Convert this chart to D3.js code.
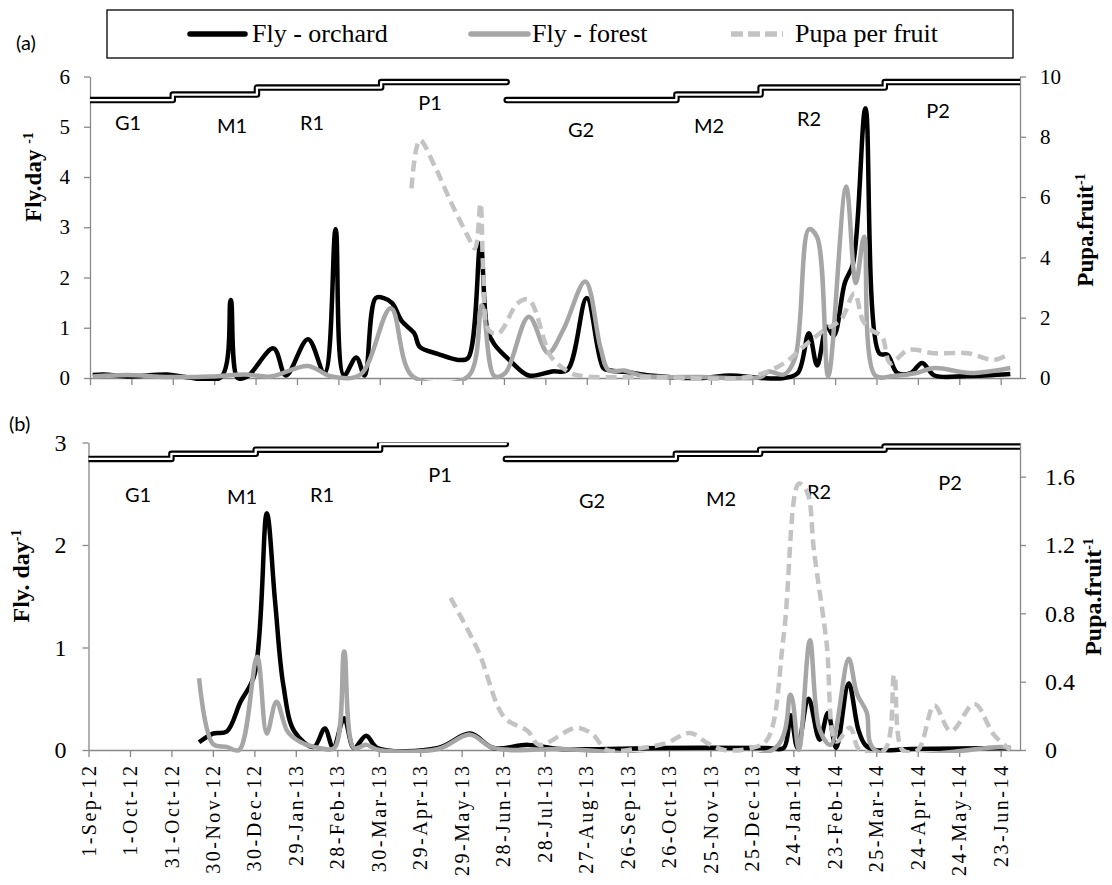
<!DOCTYPE html>
<html>
<head>
<meta charset="utf-8">
<script src="https://cdn.jsdelivr.net/npm/d3@7"></script>
<style>
  body { margin: 0; background: #fff; }
  text { fill: #000; }
</style>
</head>
<body>
<script>
// ---- data ----
var tickLabels = ["1-Sep-12","1-Oct-12","31-Oct-12","30-Nov-12","30-Dec-12","29-Jan-13","28-Feb-13",
  "30-Mar-13","29-Apr-13","29-May-13","28-Jun-13","28-Jul-13","27-Aug-13","26-Sep-13","26-Oct-13",
  "25-Nov-13","25-Dec-13","24-Jan-14","23-Feb-14","25-Mar-14","24-Apr-14","24-May-14","23-Jun-14"]

var phaseNames = ["G1","M1","R1","P1","G2","M2","R2","P2"]
var phaseStart = ["2012-08-25","2012-10-31","2012-12-31","2013-03-31","2013-06-30","2013-10-31","2013-12-31","2014-03-31"]
var phaseEnd   = ["2012-10-31","2012-12-31","2013-03-31","2013-06-30","2013-10-31","2013-12-31","2014-03-31","2014-07-15"]
var phaseLevelA = [5.53, 5.64, 5.78, 5.89, 5.53, 5.64, 5.78, 5.89]
var phaseLevelB = [2.84, 2.89, 2.93, 2.985, 2.84, 2.89, 2.93, 2.96]

// (a) flies per day, left axis
var orchardA = [["2012-09-03",0.06],["2012-09-11",0.07],["2012-09-28",0.03],["2012-10-27",0.07],["2012-11-09",0.02],
  ["2012-12-05",0.02],["2012-12-12",1.55],["2012-12-17",0.0],["2012-12-24",0.03],["2013-01-12",0.59],["2013-01-21",0.05],
  ["2013-02-06",0.77],["2013-02-18",0.1],["2013-02-26",2.96],["2013-03-04",0.05],["2013-03-13",0.41],["2013-03-19",0.05],
  ["2013-03-27",1.59],["2013-04-02",1.59],["2013-04-08",1.49],["2013-04-15",1.13],["2013-04-24",0.89],["2013-04-28",0.62],
  ["2013-05-11",0.48],["2013-05-26",0.36],["2013-06-02",0.4],["2013-06-11",2.68],["2013-06-16",0.96],["2013-06-21",0.67],
  ["2013-07-03",0.33],["2013-07-16",0.05],["2013-08-02",0.13],["2013-08-13",0.16],["2013-08-27",1.59],["2013-09-08",0.2],
  ["2013-09-13",0.15],["2013-09-25",0.12],["2013-10-12",0.05],["2013-11-17",0.0],["2013-12-09",0.05],["2013-12-31",0.0],
  ["2014-01-17",0.0],["2014-01-27",0.1],["2014-02-04",0.89],["2014-02-10",0.25],["2014-02-17",1.02],["2014-02-22",0.84],
  ["2014-03-02",1.89],["2014-03-08",2.28],["2014-03-17",5.37],["2014-03-27",0.49],["2014-04-02",0.46],["2014-04-09",0.1],
  ["2014-04-19",0.1],["2014-04-27",0.3],["2014-05-06",0.05],["2014-05-30",0.04],["2014-06-30",0.08]]
var forestA = [["2012-09-03",0.03],["2012-09-28",0.06],["2012-10-27",0.02],["2012-11-28",0.03],["2012-12-22",0.07],
  ["2013-01-10",0.03],["2013-02-06",0.24],["2013-02-23",0.03],["2013-03-16",0.07],["2013-04-07",1.39],["2013-04-23",0.03],
  ["2013-06-02",0.03],["2013-06-12",1.45],["2013-06-21",0.04],["2013-06-29",0.1],["2013-07-16",1.22],["2013-07-30",0.5],
  ["2013-08-10",0.96],["2013-08-26",1.92],["2013-09-06",0.6],["2013-09-12",0.15],["2013-09-23",0.15],["2013-10-07",0.04],
  ["2013-11-17",0.02],["2013-12-31",0.02],["2014-01-06",0.13],["2014-01-17",0.07],["2014-01-25",0.4],["2014-02-04",2.96],
  ["2014-02-10",2.8],["2014-02-18",0.03],["2014-03-03",3.81],["2014-03-10",1.89],["2014-03-16",2.81],["2014-03-24",0.05],
  ["2014-04-06",0.04],["2014-04-23",0.1],["2014-05-06",0.2],["2014-06-01",0.1],["2014-06-30",0.2]]
// (a) pupae per fruit, right axis
var pupaA = [["2013-04-22",6.29],["2013-04-28",7.89],["2013-05-09",7.01],["2013-05-21",5.79],["2013-06-02",4.69],
  ["2013-06-07",4.3],["2013-06-11",5.79],["2013-06-13",3.58],["2013-06-17",1.59],["2013-06-24",1.48],["2013-07-08",2.48],
  ["2013-07-16",2.6],["2013-07-28",1.15],["2013-08-01",0.71],["2013-08-15",0.17],["2013-08-25",0.06],["2013-10-15",0.03],
  ["2013-12-24",0.05],["2014-01-17",0.49],["2014-01-31",1.04],["2014-02-15",1.59],["2014-02-27",1.92],["2014-03-09",2.81],
  ["2014-03-15",1.92],["2014-03-21",1.59],["2014-03-29",1.37],["2014-04-04",0.49],["2014-04-17",0.93],["2014-05-06",0.82],
  ["2014-05-30",0.82],["2014-06-18",0.6],["2014-06-28",0.77]]

// (b)
var orchardB = [["2012-11-20",0.075],["2012-11-30",0.16],["2012-12-10",0.18],["2012-12-20",0.47],["2012-12-30",0.73],
  ["2013-01-08",2.31],["2013-01-14",1.45],["2013-01-20",0.63],["2013-01-28",0.18],["2013-02-11",0.03],["2013-02-19",0.21],
  ["2013-02-25",0.02],["2013-03-05",0.31],["2013-03-12",0.02],["2013-03-21",0.14],["2013-03-29",0.02],["2013-05-12",0.02],
  ["2013-06-04",0.16],["2013-06-21",0.02],["2013-07-16",0.05],["2013-08-08",0.01],["2013-10-20",0.02],["2014-01-05",0.02],
  ["2014-01-17",0.02],["2014-01-22",0.34],["2014-01-27",0.02],["2014-02-04",0.5],["2014-02-12",0.1],["2014-02-18",0.36],
  ["2014-02-24",0.02],["2014-03-05",0.65],["2014-03-12",0.2],["2014-03-17",0.05],["2014-03-24",0.0],["2014-04-20",0.01],
  ["2014-06-30",0.02]]
var forestB = [["2012-11-20",0.7],["2012-11-30",0.06],["2012-12-10",0.03],["2012-12-19",0.0],["2013-01-01",0.91],
  ["2013-01-08",0.16],["2013-01-15",0.47],["2013-01-23",0.18],["2013-02-01",0.08],["2013-02-15",0.02],["2013-02-26",0.02],
  ["2013-03-05",0.96],["2013-03-12",0.02],["2013-03-21",0.05],["2013-03-30",0.0],["2013-05-12",0.01],["2013-06-04",0.15],
  ["2013-06-21",0.02],["2013-08-08",0.01],["2014-01-11",0.02],["2014-01-22",0.54],["2014-01-28",0.0],["2014-02-05",1.07],
  ["2014-02-12",0.2],["2014-02-20",0.05],["2014-03-05",0.89],["2014-03-11",0.55],["2014-03-18",0.37],["2014-03-24",0.0],
  ["2014-06-23",0.03],["2014-06-30",0.02]]
var pupaB = [["2013-05-21",0.89],["2013-06-10",0.58],["2013-06-29",0.19],["2013-07-16",0.11],["2013-07-24",0.03],
  ["2013-08-20",0.13],["2013-09-01",0.09],["2013-09-11",0.0],["2013-10-05",0.01],["2013-10-24",0.04],["2013-11-10",0.1],
  ["2013-11-23",0.04],["2013-12-05",0.0],["2013-12-24",0.01],["2014-01-05",0.06],["2014-01-17",0.67],["2014-01-28",1.56],
  ["2014-02-03",1.51],["2014-02-08",1.16],["2014-02-17",0.63],["2014-02-24",0.05],["2014-03-06",0.13],["2014-03-13",0.0],
  ["2014-03-31",0.0],["2014-04-07",0.44],["2014-04-13",0.0],["2014-04-24",0.0],["2014-05-06",0.26],["2014-05-18",0.11],
  ["2014-06-04",0.27],["2014-06-18",0.09],["2014-06-30",0.0]]

// ---- layout ----
var W = 1112, H = 885
var serif = "'Liberation Serif','Times New Roman','DejaVu Serif',serif"
var sans = "Lato,'Open Sans',sans-serif"
var axisGrey = "#888"
var cBlack = "#000", cForest = "#a6a6a6", cPupa = "#c3c3c3"

var parse = d3.timeParse("%Y-%m-%d")
var parseTick = d3.timeParse("%d-%b-%y")
var tickDates = tickLabels.map(parseTick)
var xDomain = [parse("2012-09-01"), parse("2014-07-07")]

var panels = [
  { id: "a", x0: 90, x1: 1020, yTop: 76.5, yBot: 378, lMax: 6, rMax: 10,
    lTicks: [0,1,2,3,4,5,6], rTicks: [0,2,4,6,8,10], fs: 21, lPad: 14, rPad: 14,
    orchard: orchardA, forest: forestA, pupa: pupaA, levels: phaseLevelA, xLabels: false,
    tag: [16, 50], lTitle: ["Fly.day ", "-1", 41, 177], rTitle: ["Pupa.fruit", "-1", 1093, 230],
    phaseLab: [[128,130],[232,133],[312,130],[430,110],[581,137],[709,133],[809,126],[938,118]] },
  { id: "b", x0: 88.5, x1: 1020, yTop: 442.5, yBot: 750, lMax: 3, rMax: 1.8,
    lTicks: [0,1,2,3], rTicks: [0,0.4,0.8,1.2,1.6], fs: 24, lPad: 16, rPad: 19,
    orchard: orchardB, forest: forestB, pupa: pupaB, levels: phaseLevelB, xLabels: true,
    tag: [9, 431], lTitle: ["Fly. day", "-1", 29, 576], rTitle: ["Pupa.fruit", "-1", 1101, 597],
    phaseLab: [[138,502],[242,504],[322,502],[440,482],[592,508],[721,506],[819,499],[950,490]] }
]

var svg = d3.select("body").append("svg")
  .attr("width", W).attr("height", H)
  .style("font-family", serif)

svg.append("rect").attr("width", W).attr("height", H).attr("fill", "#fff")

panels.forEach(function (p) {
  var x = d3.scaleTime().domain(xDomain).range([p.x0, p.x1])
  var yL = d3.scaleLinear().domain([0, p.lMax]).range([p.yBot, p.yTop])
  var yR = d3.scaleLinear().domain([0, p.rMax]).range([p.yBot, p.yTop])

  var g = svg.append("g").attr("class", "panel-" + p.id)

  // clip paths
  g.append("clipPath").attr("id", "clip-" + p.id)
    .append("rect").attr("x", p.x0).attr("y", p.yTop - 20)
    .attr("width", p.x1 - p.x0).attr("height", p.yBot - p.yTop + 23)
  g.append("clipPath").attr("id", "clipbar-" + p.id)
    .append("rect").attr("x", p.x0).attr("y", p.yTop)
    .attr("width", p.x1 - p.x0).attr("height", p.yBot - p.yTop)

  // axes
  var fmtR = function (d) { return d === 0 ? "0" : (p.rMax < 2 ? d3.format(".1f")(d) : String(d)) }
  var axL = g.append("g").attr("transform", "translate(" + p.x0 + ",0)")
    .call(d3.axisLeft(yL).tickValues(p.lTicks).tickSize(6).tickSizeOuter(0).tickPadding(p.lPad)
      .tickFormat(d3.format("d")))
  var axR = g.append("g").attr("transform", "translate(" + p.x1 + ",0)")
    .call(d3.axisRight(yR).tickValues(p.rTicks).tickSize(6).tickSizeOuter(0).tickPadding(p.rPad).tickFormat(fmtR))
  var axB = g.append("g").attr("transform", "translate(0," + p.yBot + ")")
    .call(d3.axisBottom(x).tickValues(tickDates).tickSize(7).tickSizeOuter(0)
      .tickFormat(function (d, i) { return p.xLabels ? tickLabels[i] : "" }))

  ;[axL, axR, axB].forEach(function (ax) {
    ax.attr("font-family", null)
    ax.select(".domain").attr("stroke", axisGrey).attr("stroke-width", 1.3)
    ax.selectAll(".tick line").attr("stroke", axisGrey).attr("stroke-width", 1.3)
    ax.selectAll("text").style("font-family", serif).attr("font-size", p.fs).attr("fill", "#000")
  })
  if (p.xLabels) {
    axB.selectAll("text")
      .attr("font-size", 20)
      .attr("letter-spacing", "2.5px")
      .attr("text-anchor", "end")
      .attr("transform", "rotate(-90)")
      .attr("x", -13.5).attr("y", 0).attr("dy", "0.33em")
  }

  // phase bars (double line)
  var phaseG = g.append("g").attr("clip-path", "url(#clipbar-" + p.id + ")")
  ;[[0, 4], [4, 8]].forEach(function (r) {
    var pts = []
    for (var i = r[0]; i < r[1]; i++) {
      pts.push([x(parse(phaseStart[i])), yL(p.levels[i])])
      pts.push([x(parse(phaseEnd[i])), yL(p.levels[i])])
    }
    var d = d3.line()(pts)
    phaseG.append("path").attr("d", d).attr("fill", "none")
      .attr("stroke", "#000").attr("stroke-width", 6.5)
      .attr("stroke-linecap", "round").attr("stroke-linejoin", "round")
    phaseG.append("path").attr("d", d).attr("fill", "none")
      .attr("stroke", "#fff").attr("stroke-width", 2.3)
      .attr("stroke-linecap", "round").attr("stroke-linejoin", "round")
  })

  // phase labels
  g.selectAll("text.phase").data(phaseNames).enter().append("text")
    .attr("class", "phase")
    .attr("x", function (d, i) { return p.phaseLab[i][0] })
    .attr("y", function (d, i) { return p.phaseLab[i][1] })
    .attr("text-anchor", "middle")
    .style("font-family", sans).attr("font-size", 20)
    .text(function (d) { return d })

  // series
  var curve = d3.curveCatmullRom.alpha(0.5)
  var lineL = d3.line().curve(curve)
    .x(function (d) { return x(parse(d[0])) }).y(function (d) { return yL(d[1]) })
  var lineR = d3.line().curve(curve)
    .x(function (d) { return x(parse(d[0])) }).y(function (d) { return yR(d[1]) })

  var series = g.append("g").attr("clip-path", "url(#clip-" + p.id + ")")
  series.append("path").datum(p.orchard).attr("d", lineL)
    .attr("fill", "none").attr("stroke", cBlack).attr("stroke-width", 4.5).attr("stroke-linejoin", "round")
  series.append("path").datum(p.forest).attr("d", lineL)
    .attr("fill", "none").attr("stroke", cForest).attr("stroke-width", 4.5).attr("stroke-linejoin", "round")
  series.append("path").datum(p.pupa).attr("d", lineR)
    .attr("fill", "none").attr("stroke", cPupa).attr("stroke-width", 4.5).attr("stroke-dasharray", "11,6")

  // axis titles
  function title(t) {
    var el = svg.append("text")
      .attr("transform", "translate(" + t[2] + "," + t[3] + ") rotate(-90)")
      .attr("text-anchor", "middle").style("font-family", serif)
      .attr("font-weight", "bold").attr("font-size", p.id === "a" ? 23 : 24)
    el.append("tspan").text(t[0])
    el.append("tspan").attr("dy", -8).attr("font-size", 14).text(t[1])
  }
  title(p.lTitle)
  title(p.rTitle)

  svg.append("text").attr("x", p.tag[0]).attr("y", p.tag[1])
    .style("font-family", sans).attr("font-size", 20).text("(" + p.id + ")")
})

// legend
var legend = svg.append("g")
legend.append("rect").attr("x", 107).attr("y", 10).attr("width", 906).attr("height", 48)
  .attr("fill", "#fff").attr("stroke", "#000").attr("stroke-width", 1.3)
var legendItems = [
  { name: "Fly - orchard", color: cBlack, dash: null, lx: [190, 245], tx: 252 },
  { name: "Fly - forest", color: cForest, dash: null, lx: [471, 528], tx: 532 },
  { name: "Pupa per fruit", color: cPupa, dash: "12,5", lx: [731, 783], tx: 795 }
]
legendItems.forEach(function (it) {
  legend.append("line").attr("x1", it.lx[0]).attr("x2", it.lx[1]).attr("y1", 34).attr("y2", 34)
    .attr("stroke", it.color).attr("stroke-width", 5.5)
    .attr("stroke-linecap", it.dash ? "butt" : "round")
    .attr("stroke-dasharray", it.dash)
  legend.append("text").attr("x", it.tx).attr("y", 42)
    .style("font-family", serif).attr("font-size", 26).text(it.name)
})
</script>
</body>
</html>
